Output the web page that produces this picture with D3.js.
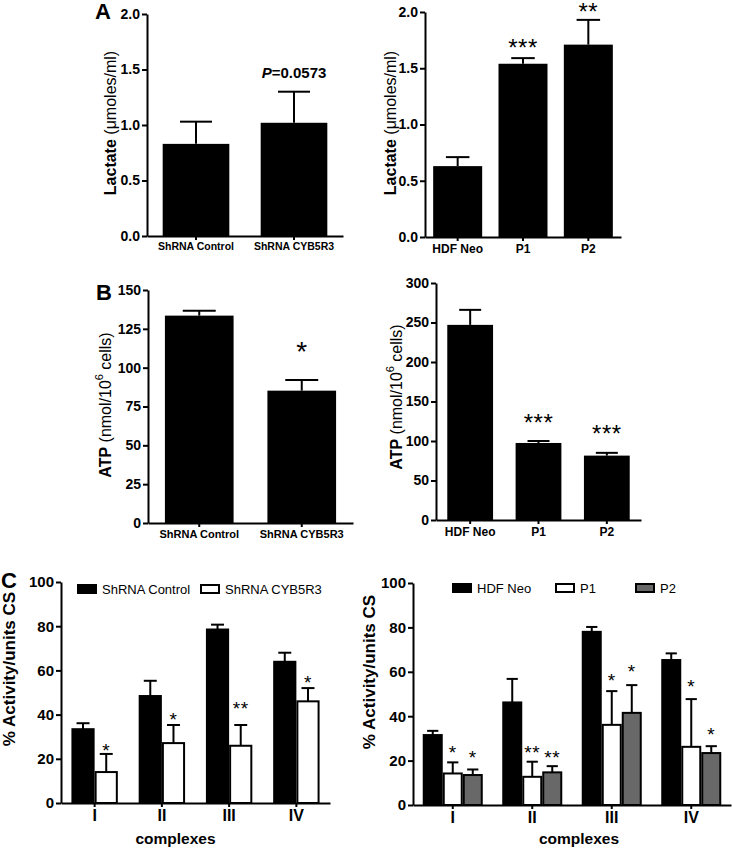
<!DOCTYPE html>
<html><head><meta charset="utf-8">
<script src="https://cdn.jsdelivr.net/npm/d3@7"></script>
<style>
body{margin:0;background:#fff}
svg text{font-family:"Liberation Sans",Arial,Helvetica,sans-serif}
</style>
</head><body>
<svg id="fig" width="732" height="848"></svg>
<script>
// ---------------- DATA ----------------
// Panel A (lactate, umoles/ml)
const lacShCats = ["ShRNA Control", "ShRNA CYB5R3"];
const lacShMean = [0.83, 1.02];
const lacShSem = [0.20, 0.28];
const lacShNote = "=0.0573";
const lacTicks = [0, 0.5, 1.0, 1.5, 2.0];

const lacPtCats = ["HDF Neo", "P1", "P2"];
const lacPtMean = [0.63, 1.54, 1.71];
const lacPtSem = [0.08, 0.05, 0.22];
const lacPtStars = ["", "***", "**"];
const lacPtStarLevel = [0, 1.73, 2.05];

// Panel B (ATP, nmol/10^6 cells)
const atpShCats = ["ShRNA Control", "ShRNA CYB5R3"];
const atpShMean = [133.5, 85.2];
const atpShSem = [3.2, 6.9];
const atpShStars = ["", "*"];
const atpShStarLevel = [0, 115];
const atpShTicks = [0, 25, 50, 75, 100, 125, 150];

const atpPtCats = ["HDF Neo", "P1", "P2"];
const atpPtMean = [247, 97.5, 81.5];
const atpPtSem = [19, 2.5, 3.5];
const atpPtStars = ["", "***", "***"];
const atpPtStarLevel = [0, 130, 116];
const atpPtTicks = [0, 50, 100, 150, 200, 250, 300];

// Panel C (% activity / units CS)
const complexCats = ["I", "II", "III", "IV"];
const cTicks = [0, 20, 40, 60, 80, 100];

const shSeries = ["ShRNA Control", "ShRNA CYB5R3"];
const shCtrlMean = [33.4, 48.4, 78.5, 63.9];
const shCtrlSem = [2.7, 6.9, 2.2, 4.1];
const shCybMean = [14.0, 27.1, 25.9, 46.0];
const shCybSem = [8.2, 8.2, 9.4, 6.0];
const shCybStars = ["*", "*", "**", "*"];
const shCybStarLevel = [26, 40, 45, 56.5];

const ptSeries = ["HDF Neo", "P1", "P2"];
const hdfMean = [31.5, 46.2, 78.0, 65.3];
const hdfSem = [1.9, 10.6, 2.2, 3.0];
const p1Mean = [14.2, 12.7, 36.1, 26.2];
const p1Sem = [5.0, 6.8, 15.2, 21.5];
const p1Stars = ["*", "**", "*", "*"];
const p1StarLevel = [25.7, 25.7, 58, 55.4];
const p2Mean = [13.5, 14.7, 41.5, 23.4];
const p2Sem = [2.5, 2.8, 12.5, 3.1];
const p2Stars = ["*", "**", "*", "*"];
const p2StarLevel = [23.4, 23.4, 62, 33.8];

// ---------------- DRAWING ----------------
const svg = d3.select("#fig");
const FONT = '"Liberation Sans",Arial,Helvetica,sans-serif';

function styleAxis(ax, fs) {
  ax.select(".domain").attr("stroke", "#000").attr("stroke-width", 2);
  ax.selectAll(".tick line").attr("stroke", "#000").attr("stroke-width", 2);
  ax.selectAll(".tick text").attr("fill", "#000").attr("font-weight", "bold")
    .attr("font-size", fs).attr("font-family", FONT);
}

function drawStar(g, cx, cy, txt, fs, ls) {
  g.append("text").attr("x", cx).attr("y", cy + 0.585 * fs)
    .attr("text-anchor", "middle").attr("font-size", fs)
    .attr("letter-spacing", ls || 0)
    .text(txt);
}

function yTitle(cx, cy, parts) {
  const t = svg.append("text")
    .attr("transform", `translate(${cx},${cy}) rotate(-90)`)
    .attr("text-anchor", "middle").attr("dominant-baseline", "central");
  parts.forEach(p => {
    const s = t.append("tspan").text(p.t).attr("font-size", p.fs)
      .attr("font-weight", p.b ? "bold" : "normal");
    if (p.dy) s.attr("dy", p.dy);
  });
  return t;
}

function simplePanel(o) {
  const g = svg.append("g");
  const x = d3.scaleBand().domain(o.cats).range([o.xL, o.xR])
    .paddingInner(o.pad).paddingOuter(o.pad / 2);
  const y = d3.scaleLinear().domain([0, o.yMax]).range([o.yB, o.yT]);
  const bw = x.bandwidth();
  o.cats.forEach((c, i) => {
    const cx = x(c) + bw / 2;
    const top = y(o.means[i] + o.sems[i]);
    g.append("line").attr("x1", cx).attr("x2", cx)
      .attr("y1", y(o.means[i])).attr("y2", top)
      .attr("stroke", "#000").attr("stroke-width", 2);
    g.append("line").attr("x1", cx - bw * 0.24).attr("x2", cx + bw * 0.24)
      .attr("y1", top).attr("y2", top)
      .attr("stroke", "#000").attr("stroke-width", 2);
  });
  g.selectAll("rect.bar").data(o.cats).join("rect").attr("class", "bar")
    .attr("x", d => x(d)).attr("width", bw)
    .attr("y", (d, i) => y(o.means[i]))
    .attr("height", (d, i) => o.yB - y(o.means[i]))
    .attr("fill", "#000");
  const ya = g.append("g").attr("transform", `translate(${o.xL},0)`)
    .call(d3.axisLeft(y).tickValues(o.ticks).tickFormat(o.fmt)
      .tickSize(5).tickSizeOuter(0).tickPadding(2));
  styleAxis(ya, 14);
  const xa = g.append("g").attr("transform", `translate(0,${o.yB})`)
    .call(d3.axisBottom(x).tickSize(4).tickSizeOuter(0).tickPadding(3));
  styleAxis(xa, o.xfs);
  if (o.stars) {
    o.cats.forEach((c, i) => {
      if (o.stars[i]) drawStar(g, x(c) + bw / 2, y(o.starLevel[i]), o.stars[i], o.starFs, o.starLs);
    });
  }
  return {x, y, g};
}

function groupPanel(o) {
  const g = svg.append("g");
  const x0 = d3.scaleBand().domain(o.cats).range([o.xL, o.xR])
    .paddingInner(o.pad).paddingOuter(o.pad / 2);
  const x1 = d3.scaleBand().domain(o.series).range([0, x0.bandwidth()]);
  const y = d3.scaleLinear().domain([0, 100]).range([o.yB, o.yT]);
  const bw = x1.bandwidth();
  o.series.forEach((s, si) => {
    o.cats.forEach((c, i) => {
      const bx = x0(c) + x1(s);
      const cx = bx + bw / 2;
      const m = o.means[si][i], e = o.sems[si][i];
      const top = y(m + e);
      g.append("line").attr("x1", cx).attr("x2", cx)
        .attr("y1", y(m)).attr("y2", top)
        .attr("stroke", "#000").attr("stroke-width", 2);
      g.append("line").attr("x1", cx - bw * 0.28).attr("x2", cx + bw * 0.28)
        .attr("y1", top).attr("y2", top)
        .attr("stroke", "#000").attr("stroke-width", 2);
      g.append("rect").attr("x", bx + 1).attr("width", bw - 2)
        .attr("y", y(m)).attr("height", o.yB - y(m))
        .attr("fill", o.colors[si]).attr("stroke", "#000").attr("stroke-width", 2);
      if (o.stars[si] && o.stars[si][i]) {
        drawStar(g, cx, y(o.starLevel[si][i]), o.stars[si][i], o.starFs, 0.5);
      }
    });
  });
  const ya = g.append("g").attr("transform", `translate(${o.xL},0)`)
    .call(d3.axisLeft(y).tickValues(cTicks).tickFormat(d3.format("d"))
      .tickSize(5).tickSizeOuter(0).tickPadding(2));
  styleAxis(ya, 15);
  const xa = g.append("g").attr("transform", `translate(0,${o.yB})`)
    .call(d3.axisBottom(x0).tickSize(4).tickSizeOuter(0).tickPadding(3));
  styleAxis(xa, 16);
  o.series.forEach((s, si) => {
    const lx = o.legX[si];
    g.append("rect").attr("x", lx + 1).attr("y", o.legY + 1).attr("width", 18).attr("height", 8)
      .attr("fill", o.colors[si]).attr("stroke", "#000").attr("stroke-width", 2);
    g.append("text").attr("x", lx + 25).attr("y", o.legY + 10)
      .attr("font-size", 13).text(s);
  });
  g.append("text").attr("x", (o.xL + o.xR) / 2 + o.titleDx).attr("y", 844)
    .attr("text-anchor", "middle").attr("font-size", 15.5).attr("font-weight", "bold")
    .text("complexes");
  return {x0, y};
}

// Panel A left
const pA1 = simplePanel({cats: lacShCats, means: lacShMean, sems: lacShSem,
  yMax: 2, ticks: lacTicks, fmt: d3.format(".1f"),
  xL: 147, xR: 343, yB: 236, yT: 14, pad: 0.32, xfs: 10.5});
{
  const t = svg.append("text").attr("x", pA1.x(lacShCats[1]) + pA1.x.bandwidth() / 2)
    .attr("y", 78).attr("text-anchor", "middle").attr("font-size", 15).attr("font-weight", "bold");
  t.append("tspan").attr("font-style", "italic").text("P");
  t.append("tspan").text(lacShNote);
}
// Panel A right
simplePanel({cats: lacPtCats, means: lacPtMean, sems: lacPtSem,
  yMax: 2, ticks: lacTicks, fmt: d3.format(".1f"),
  xL: 425, xR: 621, yB: 237, yT: 12, pad: 0.25, xfs: 12,
  stars: lacPtStars, starLevel: lacPtStarLevel, starFs: 24, starLs: 0.5});
// Panel B left
simplePanel({cats: atpShCats, means: atpShMean, sems: atpShSem,
  yMax: 150, ticks: atpShTicks, fmt: d3.format("d"),
  xL: 148, xR: 353, yB: 523, yT: 290, pad: 0.33, xfs: 11,
  stars: atpShStars, starLevel: atpShStarLevel, starFs: 28, starLs: 0});
// Panel B right
simplePanel({cats: atpPtCats, means: atpPtMean, sems: atpPtSem,
  yMax: 300, ticks: atpPtTicks, fmt: d3.format("d"),
  xL: 436, xR: 641, yB: 520, yT: 283, pad: 0.33, xfs: 12,
  stars: atpPtStars, starLevel: atpPtStarLevel, starFs: 24, starLs: 0.5});

// Panel C left
groupPanel({cats: complexCats, series: shSeries,
  means: [shCtrlMean, shCybMean], sems: [shCtrlSem, shCybSem],
  stars: [null, shCybStars], starLevel: [null, shCybStarLevel],
  colors: ["#000", "#fff"], xL: 61, xR: 330, yB: 803, yT: 582, pad: 0.31,
  legX: [77, 200], legY: 584, starFs: 19, titleDx: -20});
// Panel C right
groupPanel({cats: complexCats, series: ptSeries,
  means: [hdfMean, p1Mean, p2Mean], sems: [hdfSem, p1Sem, p2Sem],
  stars: [null, p1Stars, p2Stars], starLevel: [null, p1StarLevel, p2StarLevel],
  colors: ["#000", "#fff", "#686868"], xL: 413, xR: 731, yB: 805, yT: 583, pad: 0.245,
  legX: [452, 555, 635], legY: 583, starFs: 19, titleDx: 7});

// Axis titles
yTitle(110, 123, [{t: "Lactate", b: true, fs: 16}, {t: " (μmoles/ml)", fs: 16}]);
yTitle(390, 123, [{t: "Lactate", b: true, fs: 16}, {t: " (μmoles/ml)", fs: 16}]);
[[105, 405], [396, 397]].forEach(([cx, cy]) => {
  const t = yTitle(cx, cy, [{t: "ATP", b: true, fs: 16}, {t: " (nmol/10", fs: 16}]);
  t.append("tspan").text("6").attr("font-size", 11).attr("dy", -6);
  t.append("tspan").text(" cells)").attr("font-size", 16).attr("dy", 6);
});
yTitle(9, 669, [{t: "% Activity/units CS", b: true, fs: 17}]);
yTitle(369, 672, [{t: "% Activity/units CS", b: true, fs: 17}]);

// Panel letters
[["A", 95, 19], ["B", 96, 300], ["C", 1, 588]].forEach(([l, x, y]) => {
  svg.append("text").attr("x", x).attr("y", y).attr("font-size", 22)
    .attr("font-weight", "bold").text(l);
});
</script>
</body></html>
